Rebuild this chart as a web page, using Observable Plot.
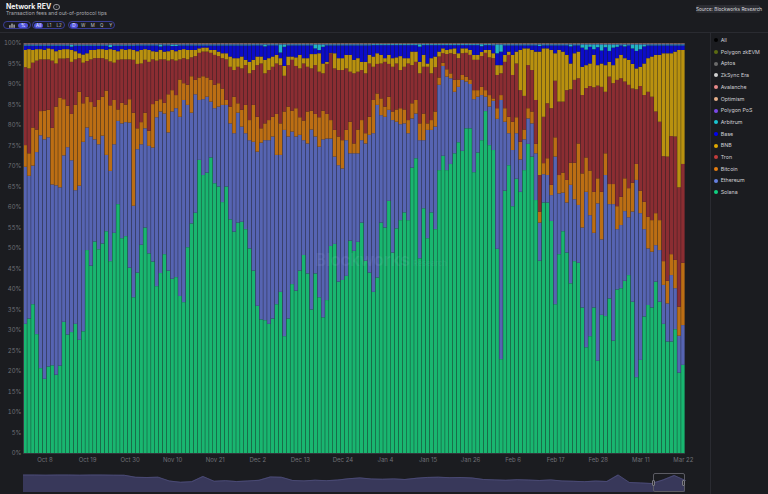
<!DOCTYPE html>
<html>
<head>
<meta charset="utf-8">
<script src="https://cdn.jsdelivr.net/npm/d3@7"></script>
<script src="https://cdn.jsdelivr.net/npm/@observablehq/plot@0.6"></script>
<style>
html,body{margin:0;padding:0;background:#1b1c20;}
#root{position:relative;width:768px;height:494px;overflow:hidden;font-family:Inter,"Noto Sans",sans-serif;color:#ddd;background:#1b1c20;}
.abs{position:absolute;}
.title{left:6px;top:1.5px;font-size:7px;font-weight:700;color:#f2f2f2;line-height:9px;white-space:nowrap;}
.title .info{display:inline-block;width:4.6px;height:4.6px;border:0.7px solid #9a9aa0;border-radius:50%;font-size:3.6px;line-height:4.6px;text-align:center;color:#9a9aa0;margin-left:2px;vertical-align:1px;font-weight:400;}
.sub{left:6px;top:9.8px;font-size:5.2px;color:#a9a9ae;line-height:7px;white-space:nowrap;}
.pill{top:20.7px;height:8.6px;border:0.8px solid #3a3d95;border-radius:5px;box-sizing:border-box;}
.pill span{position:absolute;top:0.9px;height:5.6px;line-height:5.6px;font-size:4.4px;color:#c4c4cc;text-align:center;border-radius:3px;}
.pill span.on{background:#4d51dc;color:#fff;}
.src{left:696px;top:5px;width:63.5px;height:8px;background:#2c2d33;border-radius:2px;font-size:4.7px;line-height:8px;text-align:center;color:#dadade;white-space:nowrap;}
.hline{left:0;top:31.5px;width:768px;height:0.7px;background:#2a2b31;}
.vline{left:710px;top:31.5px;width:0.7px;height:463px;background:#2a2b31;}
.leg{left:713.5px;font-size:5.3px;color:#cfcfd4;white-space:nowrap;line-height:6px;}
.leg i{display:inline-block;width:4px;height:4px;border-radius:50%;margin-right:3.2px;vertical-align:-0.4px;}
.wm1{left:315px;top:250px;font-size:17px;font-weight:700;color:rgba(200,205,255,0.09);letter-spacing:-0.3px;white-space:nowrap;}
.wm2{left:413px;top:259px;font-size:7.5px;font-weight:600;color:rgba(200,205,255,0.09);white-space:nowrap;}
.brush{left:652.5px;top:473px;width:32px;height:19px;border:0.8px solid #5b5b63;border-radius:2px;box-sizing:border-box;}
.handle{top:6px;width:3px;height:6px;background:#2e2e34;border:0.6px solid #7a7a82;border-radius:1px;box-sizing:border-box;}
</style>
</head>
<body>
<div id="root">
  <div class="abs title">Network REV<span class="info">i</span></div>
  <div class="abs sub">Transaction fees and out-of-protocol tips</div>
  <div class="abs pill" style="left:3.3px;width:27.4px;">
    <span style="left:3.5px;width:8px;">
      <svg width="6" height="5" viewBox="0 0 6 5" style="vertical-align:middle"><rect x="0.3" y="2.2" width="1.2" height="2.6" fill="#c4c4cc"/><rect x="2.4" y="0.6" width="1.2" height="4.2" fill="#c4c4cc"/><rect x="4.5" y="1.6" width="1.2" height="3.2" fill="#c4c4cc"/></svg>
    </span>
    <span class="on" style="left:14px;width:9.5px;">%</span>
  </div>
  <div class="abs pill" style="left:31.7px;width:33.3px;">
    <span class="on" style="left:1.5px;width:9px;">All</span>
    <span style="left:13.5px;width:6px;">L1</span>
    <span style="left:23.5px;width:6px;">L2</span>
  </div>
  <div class="abs pill" style="left:67.7px;width:47.3px;">
    <span class="on" style="left:1.2px;width:8px;">D</span>
    <span style="left:12px;width:5px;">W</span>
    <span style="left:21.5px;width:5px;">M</span>
    <span style="left:30.5px;width:5px;">Q</span>
    <span style="left:39.5px;width:5px;">Y</span>
  </div>
  <div class="abs src">Source: Blockworks Research</div>
  <div class="abs hline"></div>
  <div class="abs vline"></div>
  <div id="chart" class="abs" style="left:0;top:33px;"></div>
  <div class="abs" style="left:22.6px;top:43px;width:0.7px;height:410px;background:#3b3c42;"></div>
  <div class="abs wm1">Blockworks</div>
  <div class="abs wm2">Research</div>
  <div id="legend"></div>
  <div id="mini" class="abs" style="left:0;top:468px;"></div>
  <div class="abs brush"><div class="abs handle" style="left:-1.8px;"></div><div class="abs handle" style="right:-1.8px;"></div></div>
</div>
<script>
// ---- Data (percent share boundaries, per day) ----
const startDay = "2024-10-03";
const solTop = [31.5,32.8,36.3,29.0,20.7,18.1,21.1,21.4,19.1,21.3,
32.0,28.9,29.5,31.5,27.6,29.7,49.5,45.7,51.6,49.7,
51.1,54.1,46.8,53.7,60.7,52.4,52.9,45.2,38.0,44.0,
50.8,55.0,48.7,46.7,40.7,43.9,48.5,44.5,42.5,42.9,
38.3,36.8,50.2,56.0,58.6,71.5,67.8,68.4,72.1,65.8,
65.0,61.2,65.0,57.0,54.0,56.2,56.4,54.6,49.9,44.5,
35.9,32.6,32.4,31.5,32.8,36.3,39.3,28.5,32.8,41.2,
39.6,44.5,48.3,43.8,35.0,43.8,38.0,33.1,37.3,50.5,
51.0,41.8,42.2,43.2,51.8,49.3,51.5,56.2,46.9,44.0,
39.3,42.8,56.2,55.0,61.5,48.9,54.8,56.8,58.7,56.8,
69.6,71.9,47.5,59.7,52.4,58.7,54.6,69.0,72.5,69.0,
70.5,73.1,75.8,73.7,79.2,79.2,68.5,73.3,76.3,83.4,
75.1,73.9,49.8,22.9,64.0,70.2,60.2,66.9,63.7,69.0,
75.4,72.3,61.7,46.9,61.1,61.1,56.6,36.3,48.5,54.1,
48.9,41.4,46.8,46.4,35.5,25.8,28.5,35.5,22.5,33.7,
33.4,37.7,27.4,39.9,40.2,42.0,43.4,36.9,18.5,22.7,
33.3,36.1,35.5,41.8,36.9,31.5,27.2,27.2,30.2,19.6,
21.5];
const ethTop = [69.8,67.6,70.1,73.4,77.5,76.5,77.0,65.5,65.3,64.8,
72.6,74.6,71.4,64.1,65.2,75.9,79.4,77.2,76.5,75.3,
77.4,72.7,68.8,75.3,81.0,80.4,80.7,80.6,60.3,74.1,
75.3,79.2,74.9,74.5,81.9,83.3,82.8,78.2,83.3,84.1,
82.0,86.1,84.9,83.0,87.5,86.1,86.3,86.9,85.7,84.1,
84.5,84.9,84.9,80.4,78.0,83.0,79.6,78.0,76.3,75.9,
73.5,75.7,76.3,76.3,77.2,72.7,72.7,78.8,77.2,78.4,
77.2,77.6,76.3,75.5,78.9,77.2,74.7,76.5,76.7,76.7,
72.3,70.2,69.4,76.3,73.1,73.1,73.1,76.3,75.5,77.6,
78.0,84.9,82.4,82.0,83.7,81.2,80.8,80.2,80.4,78.0,
81.6,82.8,76.3,76.3,78.8,78.8,79.6,89.8,94.4,91.8,
91.4,88.1,89.3,91.0,90.6,90.0,86.3,86.9,87.3,86.9,
84.5,85.9,81.5,86.1,80.8,78.0,73.9,78.0,71.6,76.5,
81.6,80.4,73.1,56.2,68.0,67.8,62.9,72.3,63.3,63.5,
61.1,65.4,61.9,60.5,55.0,63.7,58.0,53.7,60.9,52.1,
67.8,60.7,60.7,54.6,55.6,59.0,57.5,58.9,66.6,58.5,
54.6,49.9,49.1,50.7,49.5,41.0,36.5,43.4,40.2,28.6,
31.2];
const btcTop = [75.1,73.1,79.4,78.9,83.4,83.5,83.7,79.3,84.5,86.7,
86.3,84.7,82.7,84.9,88.1,85.3,86.9,85.6,84.5,86.1,
86.9,88.4,84.8,86.1,83.8,85.4,85.0,86.3,83.0,79.2,
80.7,83.0,78.6,85.1,85.9,86.3,85.4,87.5,88.5,87.3,
91.1,90.2,89.8,91.9,91.0,91.6,91.9,91.6,91.0,89.8,
90.2,88.9,86.1,84.5,86.9,85.3,83.7,84.9,81.2,84.9,
82.0,79.2,80.4,81.2,82.0,82.7,80.4,83.3,84.5,83.5,
84.1,81.9,81.1,83.3,83.5,82.7,81.9,83.5,82.7,81.2,
78.8,77.2,76.3,78.8,80.8,75.5,78.9,81.2,78.0,82.0,
86.1,87.7,86.5,84.5,86.9,83.3,83.8,84.1,83.8,81.2,
85.3,86.1,80.4,82.8,80.4,81.2,83.3,91.6,95.2,93.6,
92.6,91.0,91.1,92.2,91.8,91.1,88.5,88.5,89.3,88.5,
87.3,86.5,84.1,87.3,84.1,82.0,80.8,81.9,75.9,78.9,
84.1,83.3,75.4,58.9,70.7,71.9,65.4,77.0,67.8,68.4,
66.6,70.8,70.8,75.5,68.2,72.1,68.9,63.7,67.0,63.7,
73.1,65.6,65.6,60.2,62.5,67.0,64.6,65.9,70.5,64.0,
61.3,57.6,56.8,58.5,56.8,46.8,42.0,48.5,47.1,35.7,
46.4];
const tronTop = [94.1,93.8,95.2,95.7,96.0,96.0,96.0,95.7,95.0,96.2,
96.2,96.3,95.4,96.0,96.3,95.2,95.6,96.0,96.3,96.3,
96.3,96.0,95.5,95.2,95.9,96.0,96.0,96.0,95.9,94.9,
95.0,95.9,95.4,96.0,95.7,96.0,96.0,95.7,96.0,95.7,
96.0,96.3,96.0,96.5,96.8,97.6,97.9,97.9,97.6,97.1,
96.8,96.3,96.0,94.2,93.4,94.2,93.8,94.6,92.6,93.4,
94.6,95.0,92.6,93.4,94.2,95.0,94.6,92.0,94.6,95.9,
94.4,93.8,95.0,94.2,93.8,94.6,93.0,92.6,94.9,97.5,
93.8,93.4,93.4,93.8,93.0,92.6,93.0,93.4,92.6,95.0,
94.2,94.9,95.0,95.4,94.9,94.2,95.0,93.4,94.2,95.0,
94.6,95.4,92.6,94.2,94.2,92.6,94.1,96.7,97.5,97.3,
97.5,97.3,96.3,97.5,97.6,97.1,95.9,95.9,96.8,97.6,
96.5,96.3,92.2,92.6,95.4,97.1,92.2,95.0,88.5,87.1,
94.6,93.4,86.1,67.8,82.0,85.3,84.1,90.8,85.7,85.7,
88.5,88.7,91.0,91.4,87.3,89.0,89.5,89.2,89.6,89.3,
88.1,91.8,90.2,91.0,91.4,90.6,89.8,88.9,88.7,89.5,
87.3,88.1,86.9,83.3,80.8,72.4,72.3,77.3,77.2,64.8,
70.5];
const bnbTop = [98.3,98.5,98.3,98.5,98.5,98.3,98.7,98.5,98.0,98.3,
98.5,98.5,98.3,98.0,97.5,97.2,97.5,98.3,98.3,98.5,
98.5,98.3,98.5,98.3,98.0,98.5,98.3,98.5,98.3,98.0,
98.3,98.5,98.3,98.0,97.9,98.3,97.9,98.0,98.3,98.0,
98.3,98.5,98.3,98.3,98.3,98.7,98.9,98.9,98.3,98.3,
97.9,97.5,97.5,96.7,96.3,96.3,96.7,95.9,95.4,95.9,
96.7,96.7,95.9,96.3,96.7,97.1,96.3,94.4,96.7,96.7,
96.5,97.1,96.3,96.3,97.3,97.3,97.5,95.0,95.4,97.6,
97.5,96.3,96.3,97.1,97.1,95.9,96.3,95.4,95.4,97.1,
96.7,97.5,97.1,96.3,97.1,96.3,96.5,96.8,96.3,96.3,
97.9,97.9,95.4,97.1,95.0,96.3,96.7,97.9,98.7,98.3,
98.5,98.7,97.5,98.7,98.7,98.3,97.1,97.1,97.8,98.3,
98.3,97.5,94.6,94.6,97.1,97.9,97.1,97.9,98.3,98.7,
98.7,98.3,97.9,97.9,98.7,98.7,98.3,97.5,98.3,97.9,
97.1,95.0,97.5,97.9,94.2,94.6,95.0,97.1,94.6,95.0,
94.6,95.4,94.6,96.3,97.1,96.3,95.9,94.9,93.8,94.2,
95.0,96.3,96.7,97.1,97.1,97.5,97.5,97.5,97.9,98.3,
98.3];
const arbitrum = [.25,.25,.25,.25,.25,.25,.25,.25,.25,.25,
.25,.25,.5,.25,.25,.25,.25,.25,.25,.25,
.25,.25,.6,.25,.25,.25,.25,.25,.25,.25,
.25,.25,.25,.25,.25,.5,.25,.25,.4,.4,
.25,.25,.25,.25,.25,.25,.25,.25,.25,.25,
.25,.25,.25,.25,.25,.25,.25,.25,.25,.25,
.25,.25,.5,.25,.25,.25,2.0,.6,.25,.25,
.25,.25,.25,.25,.25,1.0,1.4,.6,.25,.25,
.25,.25,.25,.25,.25,.25,.25,.25,.25,.25,
.25,.25,.25,.25,.25,.25,.25,.25,.25,.25,
.25,.25,.6,.25,.25,.25,.25,.25,.25,.25,
.25,.25,.25,.25,.25,.25,.25,.25,.5,.25,
.25,.25,2.2,1.8,.25,.25,.25,.25,.25,.25,
.25,.25,.25,.4,.25,.25,.25,.25,.25,.25,
.25,.5,.25,.25,.8,1.3,.6,1.2,.7,1.5,
.7,1.6,.8,.6,.25,.5,.25,1.0,1.6,1.2,
.5,.25,.25,.25,.25,.25,.25,.25,.25,.25,
.25];
// small series, monthly typical share (Oct..Mar)
const polygonPos   = [0.10,0.09,0.08,0.07,0.08,0.08];
const optimism     = [0.08,0.07,0.07,0.06,0.07,0.07];
const avalanche    = [0.10,0.09,0.08,0.06,0.07,0.08];
const zksync       = [0.05,0.04,0.03,0.03,0.03,0.03];
const aptos        = [0.04,0.04,0.05,0.05,0.06,0.06];
const polygonZkevm = [0.01,0.01,0.01,0.01,0.01,0.01];

const stackOrder = ["Solana","Ethereum","Bitcoin","Tron","BNB","Base","Arbitrum","Polygon PoS","Optimism","Avalanche","ZkSync Era","Aptos","Polygon zkEVM"];
const barColors  = ["#19b670","#5664b2","#bc6e14","#8b2d32","#b9910f","#0c0cc8","#22b3c4","#7446c8","#d99a7a","#cf6f73","#b9b9b9","#6a6a6a","#53621a"];
const legendNames  = ["All","Polygon zkEVM","Aptos","ZkSync Era","Avalanche","Optimism","Polygon PoS","Arbitrum","Base","BNB","Tron","Bitcoin","Ethereum","Solana"];
const legendColors = ["#000000","#5b6b12","#6b6b6b","#d0d0d0","#e88a8a","#e8b08a","#7b48e8","#19c5d0","#0000f0","#e0a800","#c23b3b","#e67e10","#6680e0","#10d080"];

const yTicks = [0,5,10,15,20,25,30,35,40,45,50,55,60,65,70,75,80,85,90,95,100];
const tickDates  = ["2024-10-08","2024-10-19","2024-10-30","2024-11-10","2024-11-21","2024-12-02","2024-12-13","2024-12-24","2025-01-04","2025-01-15","2025-01-26","2025-02-06","2025-02-17","2025-02-28","2025-03-11","2025-03-22"];
const tickLabels = ["Oct 8","Oct 19","Oct 30","Nov 10","Nov 21","Dec 2","Dec 13","Dec 24","Jan 4","Jan 15","Jan 26","Feb 6","Feb 17","Feb 28","Mar 11","Mar 22"];

// overview strip (relative total revenue)
const overview = [17.4,17.4,17.3,17.4,17.4,17.3,17.4,17.4,17.3,17.2,
15.2,15.0,15.3,11.5,10.2,10.8,16.0,11.2,11.8,10.9,
11.5,12.2,15.5,15.2,12.0,11.6,12.3,11.8,12.4,13.8,
14.6,13.5,13.2,13.6,13.0,14.2,15.1,15.3,14.8,15.0,
14.5,13.0,12.6,12.2,12.8,12.4,12.0,12.6,11.5,11.2,
10.8,11.4,11.0,17.5,10.0,9.5,9.0,12.5,17.0,12.0];

// ---- Build tidy rows ----
const fmt = d3.utcFormat("%Y-%m-%d");
const start = d3.utcParse("%Y-%m-%d")(startDay);
const dates = solTop.map((_, i) => fmt(d3.utcDay.offset(start, i)));
const monthIdx = {"10":0,"11":1,"12":2,"01":3,"02":4,"03":5};
const rows = [];
dates.forEach((date, i) => {
  const m = monthIdx[date.slice(5,7)];
  const tiny = {"Polygon PoS": polygonPos[m], "Optimism": optimism[m], "Avalanche": avalanche[m],
                "ZkSync Era": zksync[m], "Aptos": aptos[m], "Polygon zkEVM": polygonZkevm[m]};
  const tinySum = arbitrum[i] + Object.values(tiny).reduce((a,b)=>a+b,0);
  const vals = Object.assign({
    "Solana": solTop[i],
    "Ethereum": ethTop[i]-solTop[i],
    "Bitcoin": btcTop[i]-ethTop[i],
    "Tron": tronTop[i]-btcTop[i],
    "BNB": bnbTop[i]-tronTop[i],
    "Base": 100 - tinySum - bnbTop[i],
    "Arbitrum": arbitrum[i]
  }, tiny);
  for (const s of stackOrder) rows.push({date, series: s, value: Math.max(0, vals[s])});
});
const labelOf = new Map(tickDates.map((d,i)=>[d, tickLabels[i]]));

const chart = Plot.plot({
  width: 692, height: 437,
  marginTop: 10, marginBottom: 17, marginLeft: 23, marginRight: 7,
  style: {background: "transparent", color: "#6f7077", fontFamily: "Inter, sans-serif", fontSize: "6px", overflow: "visible"},
  x: {type: "band", domain: dates, padding: 0.1, ticks: tickDates, tickFormat: d => labelOf.get(d), tickSize: 0, tickPadding: 4, label: null},
  y: {domain: [0, 100], ticks: yTicks, tickFormat: d => d + "%", tickSize: 0, tickPadding: 2, label: null},
  color: {domain: stackOrder, range: barColors},
  marks: [
    Plot.barY(rows, {x: "date", y: "value", fill: "series", order: stackOrder}),
    Plot.ruleY([0], {stroke: "#3b3c42", strokeWidth: 0.8})
  ]
});
document.getElementById("chart").appendChild(chart);

const mini = Plot.plot({
  width: 692, height: 25,
  marginTop: 0, marginBottom: 1, marginLeft: 23, marginRight: 7,
  style: {background: "transparent"},
  x: {domain: [0, overview.length - 1], axis: null},
  y: {domain: [0, 24], axis: null},
  marks: [
    Plot.areaY(overview, {x: (d, i) => i, y: d => d, fill: "#38385a"}),
    Plot.lineY(overview, {x: (d, i) => i, y: d => d, stroke: "#4e4e7a", strokeWidth: 0.8})
  ]
});
document.getElementById("mini").appendChild(mini);

const legend = document.getElementById("legend");
legendNames.forEach((name, k) => {
  const el = document.createElement("div");
  el.className = "abs leg";
  el.style.top = (37 + 11.7 * k) + "px";
  el.innerHTML = `<i style="background:${legendColors[k]}"></i>${name}`;
  legend.appendChild(el);
});
</script>
</body>
</html>
